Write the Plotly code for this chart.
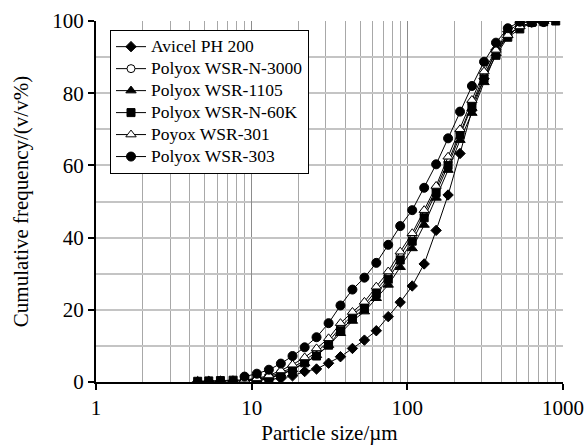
import plotly.graph_objects as go

# Particle size bins (µm)
sizes = [4.5, 5.3, 6.3, 7.6, 9.0, 10.8, 12.9, 15.4, 18.3, 21.9, 26.1, 31.2, 37.2, 44.4,
         53.0, 63.2, 75.4, 90.0, 107.5, 128.3, 153.1, 182.7, 218, 260, 311, 371, 442,
         528, 630, 752, 898]

avicel = [0.1, 0.2, 0.2, 0.3, 0.3, 0.5, 0.8, 1.0, 1.7, 2.9, 3.6, 5.2, 7.0, 9.3, 11.6,
          14.2, 18.1, 22.1, 26.6, 32.7, 42.0, 51.8, 63.3, 75.3, 84.0, 92.0, 97.0, 99.5,
          99.8, 100]
n3000 = [0.4, 0.8, 1.5, 2.6, 4.0, 6.0, 8.3, 11.2, 15.2, 18.5, 21.3, 25.3, 29.5, 35.0,
         40.3, 46.5, 53.5, 61.0, 69.0, 77.0, 85.0, 91.5, 96.0, 98.5, 99.5, 100]
wsr1105 = [0.3, 0.6, 1.2, 2.2, 3.5, 5.2, 7.4, 10.2, 13.5, 16.9, 19.5, 23.2, 26.9, 31.8,
           37.0, 43.5, 51.0, 58.7, 67.0, 74.5, 83.0, 91.0, 96.0, 98.5, 99.5, 100]
n60k = [0.2, 0.3, 0.4, 0.5, 0.6, 0.7, 1.1, 2.0, 3.4, 5.3, 7.2, 10.2, 14.2, 17.6, 20.5,
        24.5, 28.5, 33.8, 39.0, 45.5, 52.5, 60.0, 68.5, 76.5, 84.0, 90.5, 95.5, 97.8,
        99.6, 99.8, 100]
wsr301 = [0.6, 1.0, 1.8, 3.2, 4.8, 6.8, 9.3, 12.1, 16.3, 19.4, 22.2, 26.4, 30.6, 36.1,
          41.2, 47.6, 54.3, 62.4, 70.0, 78.1, 86.0, 92.0, 96.1, 98.5, 99.5, 100]
wsr303 = [1.5, 2.3, 3.4, 5.1, 7.2, 9.6, 12.4, 16.3, 21.2, 25.6, 28.9, 33.0, 38.0, 43.2,
          47.6, 53.8, 60.3, 67.5, 74.9, 82.0, 88.7, 94.0, 98.0, 99.8, 99.6, 99.7]

names = ["Avicel PH 200", "Polyox WSR-N-3000", "Polyox WSR-1105",
         "Polyox WSR-N-60K", "Poyox WSR-301", "Polyox WSR-303"]

series = [
    (names[0], sizes[0:30], avicel, "diamond", "black", 8),
    (names[1], sizes[4:30], n3000, "circle", "white", 8),
    (names[2], sizes[4:30], wsr1105, "triangle-up", "black", 9),
    (names[3], sizes[0:31], n60k, "square", "black", 8),
    (names[4], sizes[4:30], wsr301, "triangle-up", "white", 9),
    (names[5], sizes[4:30], wsr303, "circle", "black", 9),
]

fig = go.Figure()
for name, xs, ys, sym, fill, sz in series:
    fig.add_trace(go.Scatter(
        x=xs, y=ys, name='<span style="font-size:17.5px">' + name + '</span>',
        mode="lines+markers",
        line=dict(color="black", width=1),
        marker=dict(symbol=sym, size=sz, color=fill,
                    line=dict(color="black", width=1)),
    ))

font_family = "Liberation Serif"

fig.update_layout(
    width=587, height=445,
    margin=dict(l=96, r=24, t=21, b=63, autoexpand=False),
    paper_bgcolor="white", plot_bgcolor="white",
    font=dict(family=font_family, size=21, color="black"),
    showlegend=True,
    legend=dict(
        x=0.03, y=0.976, xanchor="left", yanchor="top",
        bgcolor="white", bordercolor="black", borderwidth=1,
        font=dict(family=font_family, size=14.6, color="black"),
        itemwidth=30, tracegroupgap=0,
    ),
)

fig.update_xaxes(
    type="log", range=[0, 3], dtick=1, automargin=False,
    title=dict(text="Particle size/µm", standoff=6,
               font=dict(family=font_family, size=21)),
    showline=True, linecolor="black", linewidth=2,
    ticks="outside", ticklen=6, tickcolor="black", tickwidth=2,
    showgrid=True, gridcolor="#8c8c8c", gridwidth=1,
    minor=dict(dtick="D1", showgrid=True, gridcolor="#a8a8a8", gridwidth=1,
               ticks=""),
    tickfont=dict(family=font_family, size=21),
    zeroline=False, mirror=False,
)
fig.update_yaxes(
    range=[0, 100], dtick=20, automargin=False,
    title=dict(text="Cumulative frequency/(v/v%)", standoff=18,
               font=dict(family=font_family, size=21)),
    showline=True, linecolor="black", linewidth=2,
    ticks="outside", ticklen=6, tickcolor="black", tickwidth=2,
    showgrid=True, gridcolor="#c4c4c4", gridwidth=1.5,
    minor=dict(dtick=10, showgrid=True, gridcolor="#c4c4c4", gridwidth=1.5,
               ticks=""),
    tickfont=dict(family=font_family, size=21),
    zeroline=False, mirror=False,
)

fig.write_html("out.html", config={"displayModeBar": False},
               post_script="document.body.style.margin='0';")
